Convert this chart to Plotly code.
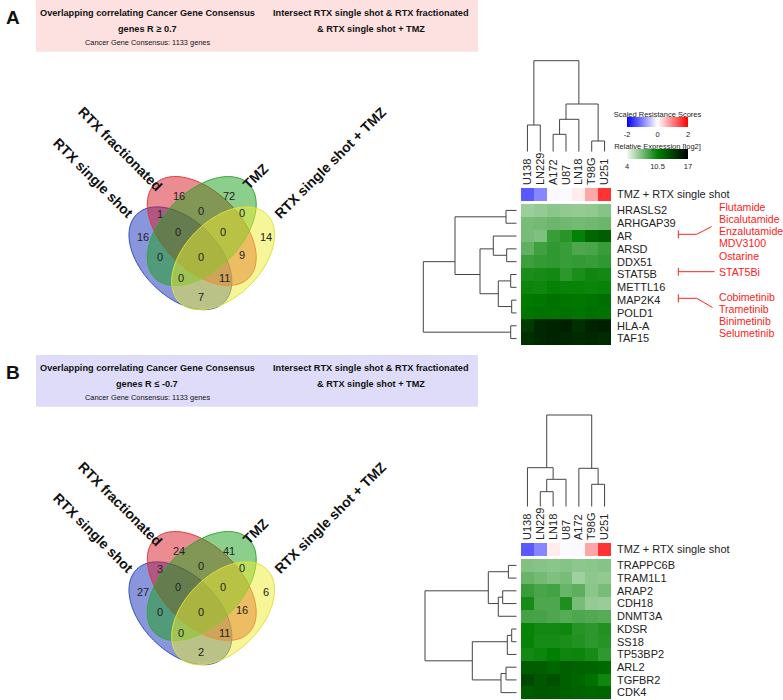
import math
import plotly.graph_objects as go

W, H = 783, 700

# ---------------- data ----------------
cell_lines = ["U138", "LN229", "A172", "U87", "LN18", "T98G", "U251"]
resistance_scores = [-1.3, -0.95, -0.05, -0.04, 0.15, 0.7, 1.6]

cols_A = ["U138", "LN229", "A172", "U87", "LN18", "T98G", "U251"]
genes_A = ["HRASLS2", "ARHGAP39", "AR", "ARSD", "DDX51", "STAT5B", "METTL16",
           "MAP2K4", "POLD1", "HLA-A", "TAF15"]
expr_A = [
    [6.3, 6.5, 6.8, 6.6, 6.5, 6.6, 6.9],
    [7.3, 7.4, 7.6, 7.5, 7.4, 7.5, 7.6],
    [7.3, 7.1, 9.0, 9.4, 10.4, 11.8, 12.3],
    [7.9, 8.8, 9.2, 9.0, 8.4, 8.5, 9.0],
    [8.9, 9.1, 9.2, 9.0, 9.1, 9.0, 9.2],
    [9.8, 9.9, 10.0, 9.3, 9.8, 10.1, 10.0],
    [10.2, 10.1, 10.4, 10.3, 10.3, 10.2, 10.3],
    [10.8, 10.9, 11.3, 11.0, 10.9, 11.1, 11.4],
    [11.0, 11.2, 11.1, 11.2, 11.0, 11.3, 11.1],
    [14.0, 15.0, 15.2, 15.4, 14.6, 15.2, 15.4],
    [14.6, 15.0, 15.2, 15.0, 14.8, 15.0, 14.8],
]

cols_B = ["U138", "LN229", "LN18", "U87", "A172", "T98G", "U251"]
genes_B = ["TRAPPC6B", "TRAM1L1", "ARAP2", "CDH18", "DNMT3A", "KDSR", "SS18",
           "TP53BP2", "ARL2", "TGFBR2", "CDK4"]
expr_B = [
    [7.0, 6.9, 6.8, 6.9, 6.7, 6.8, 6.9],
    [7.7, 7.4, 7.1, 7.3, 6.2, 6.7, 6.6],
    [9.0, 8.5, 8.7, 7.7, 8.0, 6.8, 7.3],
    [9.9, 8.4, 8.4, 9.7, 7.3, 6.5, 6.4],
    [8.7, 8.6, 8.4, 8.2, 8.4, 8.3, 8.2],
    [10.3, 10.0, 10.0, 10.1, 9.5, 9.3, 9.6],
    [10.3, 9.9, 9.9, 9.8, 9.6, 9.3, 9.5],
    [10.0, 10.2, 10.5, 10.1, 10.2, 9.9, 9.2],
    [12.3, 12.3, 11.8, 12.2, 12.0, 11.9, 11.6],
    [13.3, 12.6, 13.0, 12.1, 11.8, 11.2, 10.1],
    [12.4, 12.6, 12.5, 12.1, 12.0, 11.8, 11.9],
]

# dendrograms: R-style merge lists (negative = leaf, positive = earlier merge)
col_merge_A = [(-1, -2), (-3, -4), (2, -5), (-6, -7), (3, 4), (1, 5)]
col_height_A = [26.7, 17.4, 32.4, 10.7, 47.7, 91.0]
row_merge_A = [(-1, -2), (-4, -5), (-3, 2), (-6, -7), (-8, -9), (4, 5), (3, 6),
               (1, 7), (-10, -11), (8, 9)]
row_height_A = [10.7, 10.0, 23.4, 6.0, 5.0, 18.4, 36.7, 61.7, 6.0, 93.4]

col_merge_B = [(-2, -3), (1, -4), (-1, 2), (-6, -7), (-5, 4), (3, 5)]
col_height_B = [15.0, 27.4, 39.0, 22.4, 38.4, 91.7]
row_merge_B = [(-1, -2), (-3, -4), (2, -5), (1, 3), (-6, -7), (5, -8), (-9, -10),
               (7, -11), (6, 8), (4, 9)]
row_height_B = [8.3, 14.0, 18.4, 28.4, 5.0, 9.4, 10.7, 15.7, 44.4, 91.7]

venn_sets = ["RTX single shot", "RTX fractionated", "TMZ", "RTX single shot + TMZ"]
venn_regions = ["A", "B", "C", "D", "AB", "BC", "CD", "ABC", "BCD", "AC",
                "ABCD", "BD", "ACD", "ABD", "AD"]
venn_counts_A = [16, 16, 72, 14, 1, 0, 0, 0, 0, 0, 0, 9, 0, 11, 7]
venn_counts_B = [27, 24, 41, 6, 3, 0, 0, 0, 0, 0, 0, 16, 0, 11, 2]

drugs_AR = ["Flutamide", "Bicalutamide", "Enzalutamide", "MDV3100", "Ostarine"]
drugs_STAT5B = ["STAT5Bi"]
drugs_MAP2K4 = ["Cobimetinib", "Trametinib", "Binimetinib", "Selumetinib"]

# ---------------- styling / layout helpers ----------------
SANS = "Liberation Sans, Arial, sans-serif"
DARK = "#222222"
RED = "#ff2020"


def px(x):
    return x / W


def py(y):
    return 1 - y / H


def ann(text, x, y, size, family=SANS, color=DARK, xanchor="center",
        yanchor="middle", angle=0):
    return dict(text=text, x=px(x), y=py(y), xref="paper", yref="paper",
                showarrow=False, textangle=angle, xanchor=xanchor,
                yanchor=yanchor, font=dict(size=size, family=family, color=color))


def dendro_xy(merges, heights):
    nodes = {}
    a_list, h_list = [], []

    def info(ref):
        if ref < 0:
            i = -ref - 1
            return (i, 0.0, i, i)
        return nodes[ref]

    for k, (a, b) in enumerate(merges, start=1):
        pa, ha, la, ra = info(a)
        pb, hb, lb, rb = info(b)
        h = heights[k - 1]
        lo, hi = min(la, lb), max(ra, rb)
        nodes[k] = ((lo + hi) / 2, h, lo, hi)
        a_list += [pa, pa, pb, pb, None]
        h_list += [ha, h, h, hb, None]
    return a_list, h_list


def ellipse_path(cx, cy, a, b, ang, n=120):
    th = math.radians(ang)
    pts = []
    for k in range(n):
        t = 2 * math.pi * k / n
        ex, ey = a * math.cos(t), b * math.sin(t)
        x = cx + ex * math.cos(th) - ey * math.sin(th)
        y = cy + ex * math.sin(th) + ey * math.cos(th)
        pts.append(f"{px(x):.5f},{py(y):.5f}")
    return "M " + " L ".join(pts) + " Z"


res_colorscale = [[0, "#0000ff"], [0.5, "#ffffff"], [1, "#ff0000"]]
expr_colorscale = [[0, "#f2f9f2"], [0.5, "#008000"], [1, "#000000"]]

HX0, HX1 = 521.0, 611.0          # heatmap x extent (px)
DX0, DX1 = 416.7, 516.7          # row dendrogram x extent (px)

panels = [
    dict(off=0, cols=cols_A, genes=genes_A, expr=expr_A, cm=col_merge_A,
         ch=col_height_A, rm=row_merge_A, rh=row_height_A, counts=venn_counts_A,
         ax=["", "2", "3", "4"], legend=True,
         heat=(204.0, 345.0), bar=(188.0, 201.0), cd=(51.7, 151.7)),
    dict(off=355, cols=cols_B, genes=genes_B, expr=expr_B, cm=col_merge_B,
         ch=col_height_B, rm=row_merge_B, rh=row_height_B, counts=venn_counts_B,
         ax=["5", "6", "7", "8"], legend=False,
         heat=(559.0, 699.0), bar=(543.0, 556.0), cd=(406.7, 506.7)),
]

fig = go.Figure()
layout_axes = {}
annotations = []
shapes = []

for p in panels:
    a_h, a_b, a_c, a_r = p["ax"]
    ncol = len(p["cols"])
    nrow = len(p["genes"])
    scores = [resistance_scores[cell_lines.index(c)] for c in p["cols"]]

    heat = go.Heatmap(
        z=p["expr"], x=list(range(ncol)), y=list(range(nrow)),
        colorscale=expr_colorscale, zmin=4, zmax=17,
        xaxis="x" + a_h, yaxis="y" + a_h, hoverinfo="skip",
        showscale=p["legend"],
    )
    bar = go.Heatmap(
        z=[scores], x=list(range(ncol)), y=[0],
        colorscale=res_colorscale, zmin=-2, zmax=2,
        xaxis="x" + a_b, yaxis="y" + a_b, hoverinfo="skip",
        showscale=p["legend"],
    )
    if p["legend"]:
        heat.colorbar = dict(
            orientation="h", x=px(657.5), xanchor="center", y=py(140),
            yanchor="top", len=61, lenmode="pixels", thickness=10,
            title=dict(text="Relative Expression [log2]", side="top",
                       font=dict(size=7.5, family=SANS, color=DARK)),
            tickvals=[4, 10.5, 17], ticktext=["4", "10.5", "17"], ticks="",
            tickfont=dict(size=7.5, family=SANS, color=DARK),
            outlinewidth=0, xpad=0, ypad=0)
        bar.colorbar = dict(
            orientation="h", x=px(657.5), xanchor="center", y=py(108),
            yanchor="top", len=61, lenmode="pixels", thickness=10,
            title=dict(text="Scaled Resistance Scores", side="top",
                       font=dict(size=7.5, family=SANS, color=DARK)),
            tickvals=[-2, 0, 2], ticktext=["-2", "0", "2"], ticks="",
            tickfont=dict(size=7.5, family=SANS, color=DARK),
            outlinewidth=0, xpad=0, ypad=0)
    fig.add_trace(heat)
    fig.add_trace(bar)

    cx, cy = dendro_xy(p["cm"], p["ch"])
    fig.add_trace(go.Scatter(x=cx, y=cy, mode="lines", xaxis="x" + a_c,
                             yaxis="y" + a_c, line=dict(color="#444444", width=1),
                             hoverinfo="skip", showlegend=False))
    rx, ry = dendro_xy(p["rm"], p["rh"])
    fig.add_trace(go.Scatter(x=ry, y=rx, mode="lines", xaxis="x" + a_r,
                             yaxis="y" + a_r, line=dict(color="#444444", width=1),
                             hoverinfo="skip", showlegend=False))

    hx = [px(HX0), px(HX1)]
    hy = [py(p["heat"][1]), py(p["heat"][0])]
    by = [py(p["bar"][1]), py(p["bar"][0])]
    cyd = [py(p["cd"][1]), py(p["cd"][0])]
    layout_axes["xaxis" + a_h] = dict(domain=hx, range=[-0.5, ncol - 0.5],
                                      showticklabels=False, showgrid=False,
                                      zeroline=False, anchor="y" + a_h)
    layout_axes["yaxis" + a_h] = dict(domain=hy, range=[nrow - 0.5, -0.5],
                                      side="right", tickvals=list(range(nrow)),
                                      ticktext=p["genes"], ticks="",
                                      ticklabelstandoff=5,
                                      tickfont=dict(size=11, family=SANS, color=DARK),
                                      showgrid=False, zeroline=False,
                                      anchor="x" + a_h)
    layout_axes["xaxis" + a_b] = dict(domain=hx, range=[-0.5, ncol - 0.5],
                                      side="top", tickvals=list(range(ncol)),
                                      ticktext=p["cols"], tickangle=-90, ticks="",
                                      ticklabelstandoff=2,
                                      tickfont=dict(size=11, family=SANS, color=DARK),
                                      showgrid=False, zeroline=False,
                                      anchor="y" + a_b)
    layout_axes["yaxis" + a_b] = dict(domain=by, range=[-0.5, 0.5], side="right",
                                      tickvals=[0], ticktext=["TMZ + RTX single shot"],
                                      ticks="", ticklabelstandoff=5,
                                      tickfont=dict(size=11, family=SANS, color=DARK),
                                      showgrid=False, zeroline=False,
                                      anchor="x" + a_b)
    layout_axes["xaxis" + a_c] = dict(domain=hx, range=[-0.5, ncol - 0.5],
                                      visible=False, anchor="y" + a_c)
    layout_axes["yaxis" + a_c] = dict(domain=cyd, range=[0, 100], visible=False,
                                      anchor="x" + a_c)
    layout_axes["xaxis" + a_r] = dict(domain=[px(DX0), px(DX1)], range=[100, 0],
                                      visible=False, anchor="y" + a_r)
    layout_axes["yaxis" + a_r] = dict(domain=hy, range=[nrow - 0.5, -0.5],
                                      visible=False, anchor="x" + a_r)

    # ---- Venn diagram ----
    o = p["off"]
    ellipses = [
        (180.4, 258.3, 62, 38, 45, "rgba(20,45,185,0.5)", "#2f4fc4"),
        (201.75, 231.0, 66.4, 39, 45, "rgba(215,25,40,0.5)", "#e03a3a"),
        (201.75, 231.0, 66.4, 39, 135, "rgba(25,160,25,0.5)", "#34a834"),
        (223.1, 258.3, 62, 38, 135, "rgba(238,238,50,0.5)", "#e2e03a"),
    ]
    for (ex, ey, ea, eb, ang, fc, lc) in ellipses:
        shapes.append(dict(type="path", xref="paper", yref="paper",
                           path=ellipse_path(ex, ey + o, ea, eb, ang),
                           fillcolor=fc, line=dict(color=lc, width=1),
                           layer="above"))
    region_pos = {
        "A": (143, 237), "B": (179, 196), "C": (229, 196), "D": (266, 237),
        "AB": (160, 214), "BC": (201, 211), "CD": (242, 213),
        "ABC": (178, 232), "BCD": (223, 232), "AC": (160, 257),
        "ABCD": (201, 257), "BD": (242, 255), "ACD": (181, 278),
        "ABD": (224, 278), "AD": (201, 297),
    }
    for reg, cnt in zip(venn_regions, p["counts"]):
        x, y = region_pos[reg]
        annotations.append(ann(str(cnt), x, y + o, 11))
    set_pos = [(93.3, 178.3, 45), (120.3, 149.3, 45), (255.7, 176.0, -45),
               (330.0, 163.0, -45)]
    for name, (x, y, ang) in zip(venn_sets, set_pos):
        annotations.append(ann("<b>" + name + "</b>", x, y + o, 14,
                               color="#111111", angle=ang))

# ---------------- headers ----------------
headers = [
    (0, "#fde1e1", "A", "genes R \u2265 0.7"),
    (355, "#dedcf9", "B", "genes R \u2264 -0.7"),
]
for o, col, letter, line2 in headers:
    shapes.append(dict(type="rect", xref="paper", yref="paper",
                       x0=px(36), x1=px(478), y0=py(51.7 + o), y1=py(0 + o),
                       fillcolor=col, line=dict(width=0), layer="below"))
    annotations.append(ann("<b>" + letter + "</b>", 13, 18 + o, 19,
                           color="#111111"))
    annotations.append(ann("<b>Overlapping correlating Cancer Gene Consensus</b>",
                           147, 12.5 + o, 9.2, color="#111111"))
    annotations.append(ann("<b>" + line2 + "</b>", 147, 29 + o, 9.2,
                           color="#111111"))
    annotations.append(ann("Cancer Gene Consensus: 1133 genes", 147, 42.7 + o, 7.4,
                           color="#111111"))
    annotations.append(ann("<b>Intersect RTX single shot &amp; RTX fractionated</b>",
                           371, 12.5 + o, 9.2, color="#111111"))
    annotations.append(ann("<b>&amp; RTX single shot + TMZ</b>", 371, 29 + o, 9.2,
                           color="#111111"))

# ---------------- drug annotations (panel A) ----------------
def bracket(y_row, pts):
    shapes.append(dict(type="line", xref="paper", yref="paper", x0=px(678.3),
                       x1=px(678.3), y0=py(y_row - 4), y1=py(y_row + 4),
                       line=dict(color=RED, width=1)))
    prev = (678.3, y_row)
    for q in pts:
        shapes.append(dict(type="line", xref="paper", yref="paper", x0=px(prev[0]),
                           y0=py(prev[1]), x1=px(q[0]), y1=py(q[1]),
                           line=dict(color=RED, width=1)))
        prev = q


bracket(234.3, [(696.7, 234.3), (711.7, 226.5)])
bracket(271.7, [(714.5, 271.7)])
bracket(298.3, [(696.7, 298.3), (712.5, 307.5)])
DRUG_SIZE = 10.6
for i, d in enumerate(drugs_AR):
    annotations.append(ann(d, 716.5, 206.7 + 12.25 * i, DRUG_SIZE, color=RED,
                           xanchor="left"))
for d in drugs_STAT5B:
    annotations.append(ann(d, 716.5, 271.7, DRUG_SIZE, color=RED, xanchor="left"))
for i, d in enumerate(drugs_MAP2K4):
    annotations.append(ann(d, 716.5, 296.7 + 12.0 * i, DRUG_SIZE, color=RED,
                           xanchor="left"))

fig.update_layout(
    width=W, height=H, margin=dict(l=0, r=0, t=0, b=0),
    paper_bgcolor="white", plot_bgcolor="white", showlegend=False,
    annotations=annotations, shapes=shapes, **layout_axes,
)

fig.write_html(
    "out.html",
    config={"displayModeBar": False},
    post_script="document.body.style.margin='0';document.body.style.padding='0';",
)
